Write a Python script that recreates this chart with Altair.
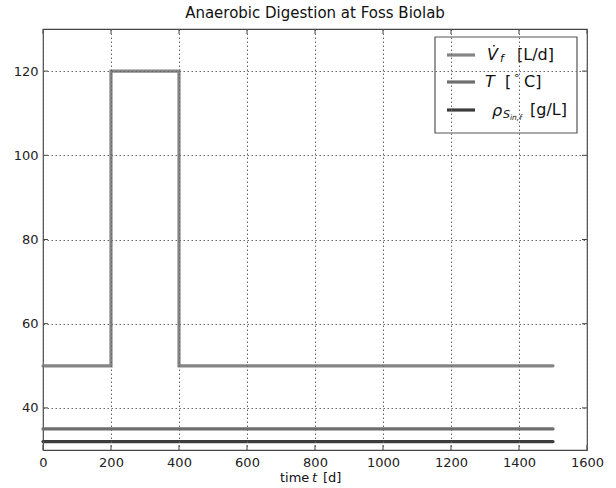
import altair as alt
import pandas as pd

# ---- data ----
t_feed = [0, 200, 200, 400, 400, 1500]
v_feed = [50, 50, 120, 120, 50, 50]          # V_f [L/d]
t_temp = [0, 1500]
v_temp = [35, 35]                            # T [°C]
t_rho = [0, 1500]
v_rho = [32, 32]                             # rho_S_in,f [g/L]
x_ticks = [0, 200, 400, 600, 800, 1000, 1200, 1400, 1600]
y_ticks = [40, 60, 80, 100, 120]

W, H = 544, 421
FONT = "DejaVu Sans"
C_V, C_T, C_R = "#858585", "#6e6e6e", "#3c3c3c"

xs = alt.Scale(domain=[0, 1600], nice=False)
ys = alt.Scale(domain=[30, 130], nice=False)

df_v = pd.DataFrame({"t": t_feed, "v": v_feed, "o": range(len(t_feed))})
df_T = pd.DataFrame({"t": t_temp, "v": v_temp, "o": range(len(t_temp))})
df_r = pd.DataFrame({"t": t_rho, "v": v_rho, "o": range(len(t_rho))})
df_xt = pd.DataFrame({"t": x_ticks})
df_yt = pd.DataFrame({"v": y_ticks})
one = pd.DataFrame({"a": [0]})

common = dict(grid=True, gridDash=[1.5, 2.5], gridColor="#666", gridWidth=1,
              ticks=False, domain=False, labelFont=FONT, labelFontSize=13,
              labelColor="#222", labelFlush=False, labelOverlap=False,
              format="d", title=None, zindex=1)
xaxis = alt.Axis(values=x_ticks, labelPadding=6, **common)
yaxis = alt.Axis(values=y_ticks, labelPadding=5, **common)

X = lambda f: alt.X(f, scale=xs, axis=xaxis)
Y = lambda f: alt.Y(f, scale=ys, axis=yaxis)


def line(df, color):
    return alt.Chart(df).mark_line(color=color, strokeWidth=3.2, strokeCap="round",
                                   strokeJoin="miter").encode(
        x=X("t:Q"), y=Y("v:Q"), order="o:O")


def txt(s, x, y, size=16, style="normal", color="#111", align="left"):
    return alt.Chart(one).mark_text(text=s, font=FONT, fontSize=size, fontStyle=style,
                                    color=color, align=align, baseline="middle").encode(
        x=alt.value(x), y=alt.value(y))


def rule(x, x2, y, y2, color, width):
    return alt.Chart(one).mark_rule(color=color, strokeWidth=width).encode(
        x=alt.value(x), x2=alt.value(x2), y=alt.value(y), y2=alt.value(y2))


tick_len = 5
xt_bot = alt.Chart(df_xt).mark_rule(color="#444").encode(
    x=X("t:Q"), y=alt.value(H), y2=alt.value(H - tick_len))
xt_top = alt.Chart(df_xt).mark_rule(color="#444").encode(
    x=X("t:Q"), y=alt.value(0), y2=alt.value(tick_len))
yt_left = alt.Chart(df_yt).mark_rule(color="#444").encode(
    y=Y("v:Q"), x=alt.value(0), x2=alt.value(tick_len))
yt_right = alt.Chart(df_yt).mark_rule(color="#444").encode(
    y=Y("v:Q"), x=alt.value(W), x2=alt.value(W - tick_len))

# legend (top-right box), plot-area pixel coordinates
lx0, ly0 = 392, 8
legend_box = alt.Chart(one).mark_rect(fill="white", stroke="#555", strokeWidth=1.2).encode(
    x=alt.value(lx0), x2=alt.value(lx0 + 142), y=alt.value(ly0), y2=alt.value(ly0 + 96))
rows = [ly0 + 18, ly0 + 45, ly0 + 73]
lg = [legend_box]
for ry, c in zip(rows, [C_V, C_T, C_R]):
    lg.append(rule(lx0 + 12, lx0 + 40, ry, ry, c, 3.2))
tx = lx0 + 50
# V_f [L/d]
lg += [txt("V̇", tx + 2, rows[0], 16, "italic"),
       txt("f", tx + 15, rows[0] + 4, 11, "italic"),
       txt("[L/d]", tx + 32, rows[0], 16)]
# T [°C]
lg += [txt("T", tx, rows[1], 16, "italic"),
       txt("[", tx + 20, rows[1], 16),
       txt("∘", tx + 28, rows[1] - 6, 11),
       txt("C]", tx + 39, rows[1], 16)]
# rho_S_in,f [g/L]
lg += [txt("ρ", tx + 7, rows[2] + 1, 16, "italic"),
       txt("S", tx + 18, rows[2] + 5, 11, "italic"),
       txt("in,f", tx + 25, rows[2] + 8, 7.5, "italic"),
       txt("[g/L]", tx + 45, rows[2], 16)]

# x-axis title "time t [d]"
ty = H + 28
xt = [txt("time", 237, ty, 13),
      txt("t", 269, ty, 13, "italic"),
      txt("[d]", 280, ty, 13)]

chart = alt.layer(
    line(df_v, C_V), line(df_T, C_T), line(df_r, C_R),
    xt_bot, xt_top, yt_left, yt_right,
    *lg, *xt,
).properties(
    width=W, height=H,
    title=alt.TitleParams("Anaerobic Digestion at Foss Biolab", font=FONT, fontSize=15,
                          fontWeight="normal", color="#111", anchor="middle", offset=8),
    autosize=alt.AutoSizeParams(type="none"),
    padding={"left": 43, "top": 29, "right": 29, "bottom": 38},
).configure_view(stroke="#444", strokeWidth=1.2)

chart.save("out.html", embed_options={"renderer": "svg", "actions": False})
